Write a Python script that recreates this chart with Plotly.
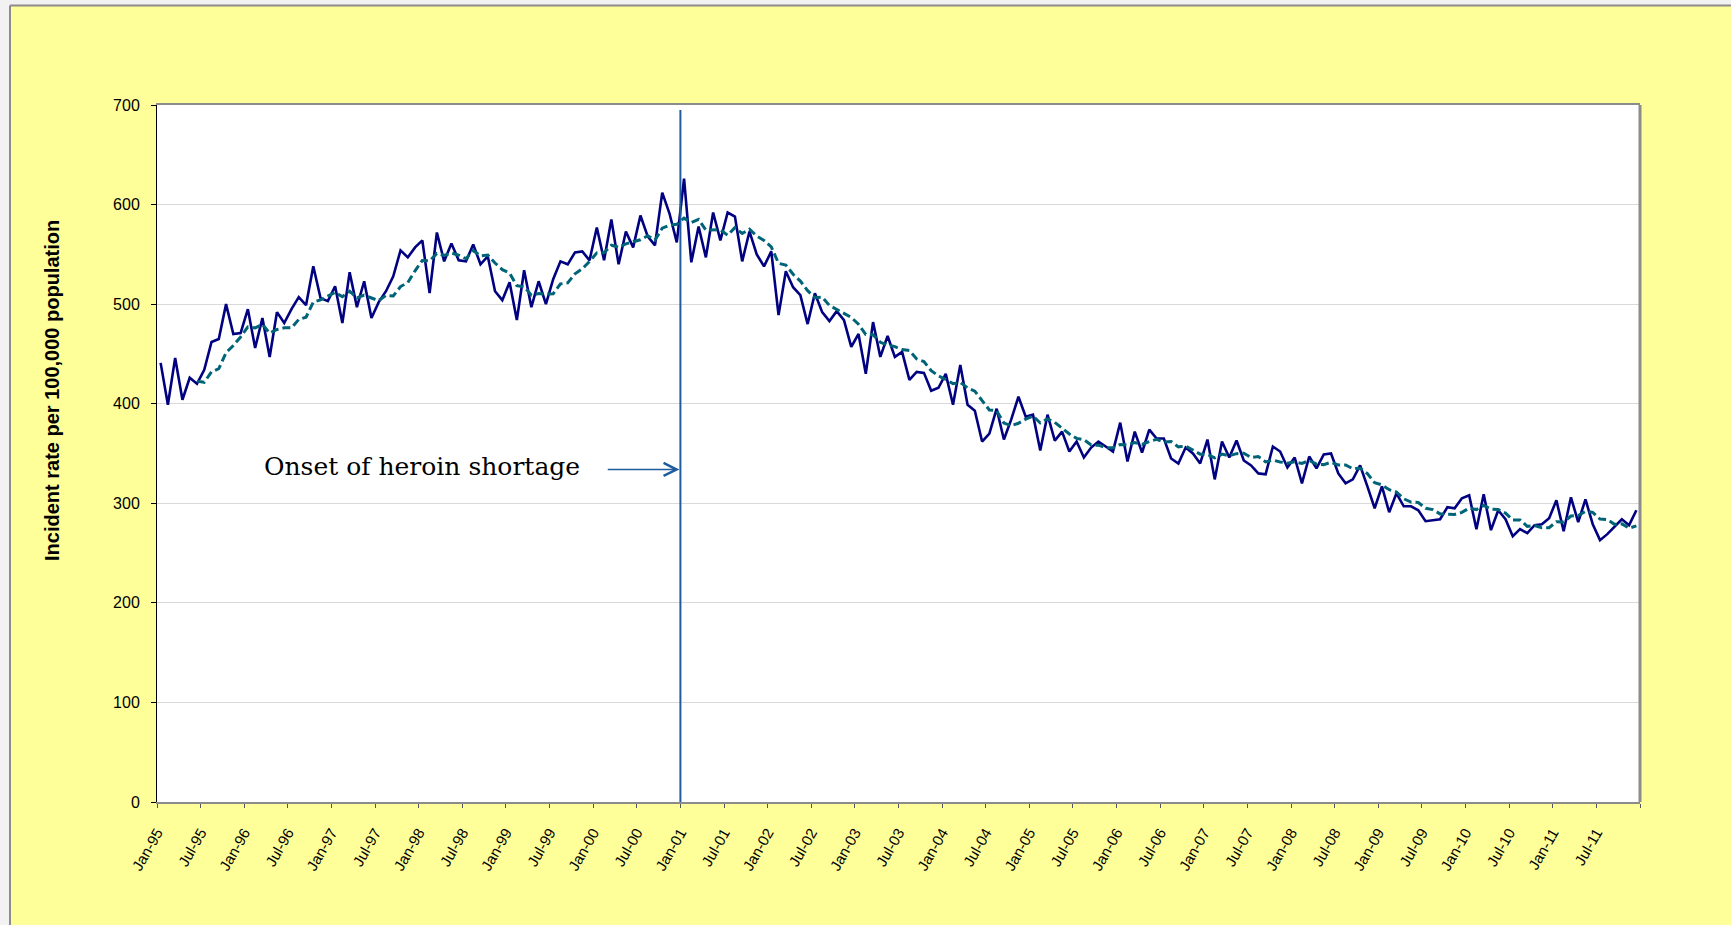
import pandas as pd
import plotly.graph_objects as go

# monthly incident rate per 100,000 population, Jan-95 .. Dec-11
rate_1995 = [441, 399, 446, 404, 426, 420, 434, 462, 465, 500, 470, 471]
rate_1996 = [495, 456, 486, 447, 492, 481, 495, 507, 499, 538, 506, 503]
rate_1997 = [518, 481, 532, 497, 523, 486, 502, 513, 528, 554, 547, 557]
rate_1998 = [564, 511, 572, 543, 561, 544, 543, 560, 540, 548, 513, 504]
rate_1999 = [522, 484, 534, 497, 523, 500, 525, 543, 540, 552, 553, 544]
rate_2000 = [577, 544, 585, 540, 573, 557, 589, 568, 559, 612, 591, 562]
rate_2001 = [626, 542, 578, 547, 592, 564, 592, 588, 543, 573, 550, 538]
rate_2002 = [553, 489, 533, 517, 509, 480, 511, 492, 483, 493, 484, 457]
rate_2003 = [470, 430, 482, 447, 468, 447, 452, 424, 432, 431, 413, 416]
rate_2004 = [430, 399, 439, 399, 393, 362, 370, 395, 364, 384, 407, 387]
rate_2005 = [389, 353, 389, 363, 372, 352, 362, 346, 356, 362, 357, 352]
rate_2006 = [381, 342, 372, 351, 374, 365, 365, 345, 340, 356, 350, 340]
rate_2007 = [364, 324, 362, 346, 363, 343, 338, 330, 329, 357, 352, 336]
rate_2008 = [346, 320, 347, 335, 349, 350, 330, 320, 324, 338, 317, 295]
rate_2009 = [317, 291, 310, 297, 297, 293, 282, 283, 284, 296, 295, 305]
rate_2010 = [308, 274, 309, 273, 293, 284, 267, 274, 270, 278, 279, 285]
rate_2011 = [303, 272, 306, 281, 304, 279, 263, 269, 277, 284, 278, 293]

years = list(range(1995, 2012))
tick_labels = []
for y in years:
    yy = str(y)[2:]
    tick_labels += [f'Jan-{yy}', f'Jul-{yy}']

shortage_label = 'Onset of heroin shortage'
y_title = 'Incident rate per 100,000 population'

rates = (rate_1995 + rate_1996 + rate_1997 + rate_1998 + rate_1999 + rate_2000
         + rate_2001 + rate_2002 + rate_2003 + rate_2004 + rate_2005 + rate_2006
         + rate_2007 + rate_2008 + rate_2009 + rate_2010 + rate_2011)
months = list(range(len(rates)))
# 6 period moving average trendline (as the spreadsheet did)
trend = pd.Series(rates).rolling(6).mean()

W, H = 1731, 925
L, R, T, B = 157, 91, 105, 123
pw, ph = W - L - R, H - T - B


def px_x(p):
    return (p - L) / pw


def px_y(p):
    return (H - B - p) / ph


fig = go.Figure()
fig.add_trace(go.Scatter(x=months, y=rates, mode='lines',
                         line=dict(color='#000080', width=2.6), showlegend=False))
fig.add_trace(go.Scatter(x=months, y=trend, mode='lines',
                         line=dict(color='#006478', width=3, dash='8px,4px'),
                         showlegend=False))

shortage_x = 71.5  # Jan-01 tick
fig.add_trace(go.Scatter(x=[shortage_x, shortage_x], y=[0, 695], mode='lines',
                         line=dict(color='#1f5c9e', width=2), showlegend=False))

# ticks every 6 months, the closing tick (Jan-12) has no label
tick_vals = [-0.5 + 6 * k for k in range(len(tick_labels) + 1)]

fig.update_xaxes(range=[-0.5, len(rates) - 0.5], tickvals=tick_vals,
                 ticktext=tick_labels + [''], tickangle=-60,
                 tickfont=dict(family='Liberation Sans, Arial', size=15, color='black'),
                 ticks='outside', ticklen=4, tickcolor='#555555', ticklabelstandoff=10,
                 showline=True, linecolor='#8c8c8c', linewidth=2, mirror=True,
                 showgrid=False, zeroline=False)
fig.update_yaxes(range=[0, 700], dtick=100,
                 tickfont=dict(family='Liberation Sans, Arial', size=16, color='black'),
                 ticks='outside', ticklen=5, tickcolor='black', ticklabelstandoff=8,
                 showline=True, linecolor='black', linewidth=1,
                 gridcolor='#d9d9d9', gridwidth=1, zeroline=False)

fig.add_annotation(x=shortage_x, y=334, ax=61.3, ay=334, xref='x', yref='y',
                   axref='x', ayref='y', text='', showarrow=True,
                   arrowhead=5, arrowsize=1.6, arrowwidth=1.6, arrowcolor='#1f5c9e',
                   standoff=1)
fig.add_annotation(x=px_x(422), y=337, xref='paper', yref='y', text=shortage_label,
                   showarrow=False, xanchor='center', yanchor='middle',
                   font=dict(family='DejaVu Serif', size=25, color='black'))
fig.add_annotation(x=px_x(52), y=px_y(391), xref='paper', yref='paper', text=y_title,
                   textangle=-90, showarrow=False, xanchor='center', yanchor='middle',
                   font=dict(family='Liberation Sans, Arial', size=20, color='black', weight='bold'))

# chart area frame: light outside strip, gray border line
fig.add_shape(type='rect', xref='paper', yref='paper', x0=px_x(-5), x1=px_x(10),
              y0=px_y(H + 5), y1=px_y(-5), fillcolor='#f2f2f2', line_width=0, layer='above')
fig.add_shape(type='rect', xref='paper', yref='paper', x0=px_x(-5), x1=px_x(W + 5),
              y0=px_y(5), y1=px_y(-5), fillcolor='#f2f2f2', line_width=0, layer='above')
fig.add_shape(type='line', xref='paper', yref='paper', x0=px_x(10), x1=px_x(W + 5),
              y0=px_y(5.5), y1=px_y(5.5), line=dict(color='#8c8c8c', width=2), layer='above')
fig.add_shape(type='line', xref='paper', yref='paper', x0=px_x(10), x1=px_x(10),
              y0=px_y(5.5), y1=px_y(H + 5), line=dict(color='#8c8c8c', width=2), layer='above')
fig.add_shape(type='line', xref='paper', yref='paper', x0=1, x1=1, y0=0, y1=1,
              line=dict(color='#8c8c8c', width=3), layer='above')

fig.update_layout(width=W, height=H, autosize=False,
                  margin=dict(l=L, r=R, t=T, b=B),
                  paper_bgcolor='#ffff99', plot_bgcolor='white',
                  font=dict(family='Liberation Sans, Arial'))

fig.write_html('out.html', config={'displayModeBar': False},
               post_script="document.body.style.margin='0';")
